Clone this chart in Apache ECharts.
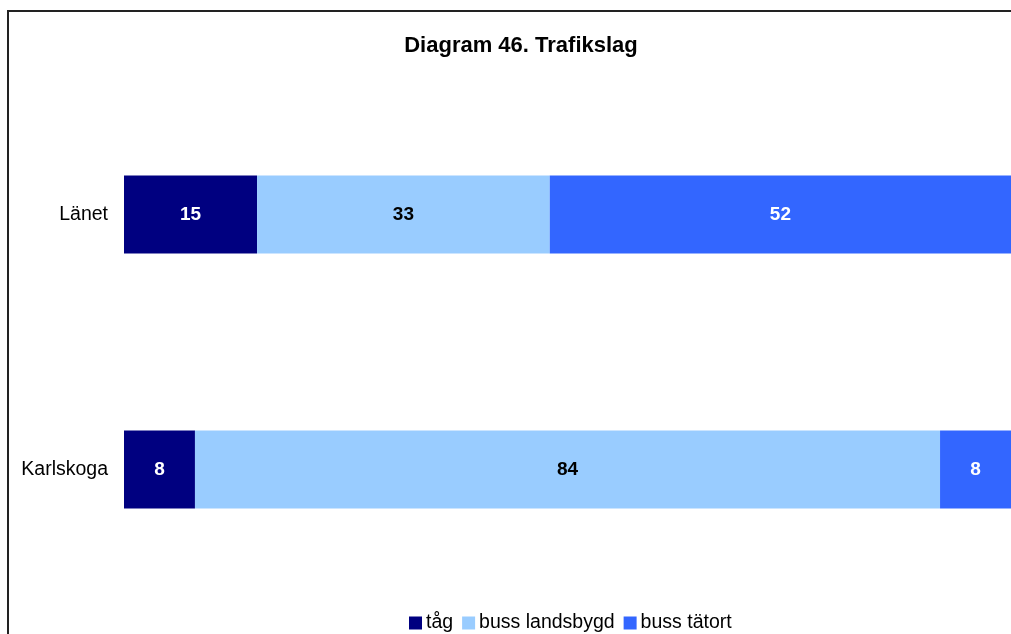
<!DOCTYPE html>
<html>
<head>
<meta charset="utf-8">
<script src="https://cdn.jsdelivr.net/npm/echarts@6/dist/echarts.min.js"></script>
<style>
    html, body { margin: 0; padding: 0; background: #fff; }
    #chart { width: 1011px; height: 634px; }
</style>
</head>
<body>
<div id="chart"></div>
<script>
// kategorier (nedifrån och upp i echarts)
const categories = ['Karlskoga', 'Länet'];
const seriesNames = ['tåg', 'buss landsbygd', 'buss tätort'];
const tag = [8, 15];
const bussLandsbygd = [84, 33];
const bussTatort = [8, 52];

const colors = ['#000080', '#99CCFF', '#3366FF'];
const labelColors = ['#fff', '#000', '#fff'];

const chart = echarts.init(document.getElementById('chart'));

const values = [tag, bussLandsbygd, bussTatort];

chart.setOption({
    animation: false,
    textStyle: { fontFamily: 'Liberation Sans, Arial, sans-serif' },
    title: {
        text: 'Diagram 46. Trafikslag',
        left: 516,
        textAlign: 'center',
        top: 30,
        textStyle: { fontSize: 22, fontWeight: 'bold', color: '#000' }
    },
    graphic: [{
        type: 'rect',
        shape: { x: 8, y: 11, width: 1100, height: 700 },
        style: { fill: 'none', stroke: '#222', lineWidth: 2 },
        silent: true
    }],
    legend: {
        left: 404,
        top: 608,
        itemWidth: 13,
        itemHeight: 13,
        itemGap: 9,
        icon: 'rect',
        textStyle: { fontSize: 19.5, color: '#000', padding: [0, 0, 0, -1] },
        data: seriesNames
    },
    grid: {
        left: 124,
        width: 889,
        top: 87,
        height: 510
    },
    xAxis: {
        type: 'value',
        min: 0,
        max: 100,
        show: false
    },
    yAxis: {
        type: 'category',
        data: categories,
        axisLine: { show: false },
        axisTick: { show: false },
        axisLabel: { fontSize: 19.5, color: '#000', margin: 16 }
    },
    series: seriesNames.map((name, i) => ({
        name: name,
        type: 'bar',
        stack: 'total',
        barWidth: 78,
        data: values[i],
        itemStyle: { color: colors[i] },
        label: {
            show: true,
            position: 'inside',
            fontSize: 19,
            fontWeight: 'bold',
            color: labelColors[i]
        }
    }))
});
</script>
</body>
</html>
